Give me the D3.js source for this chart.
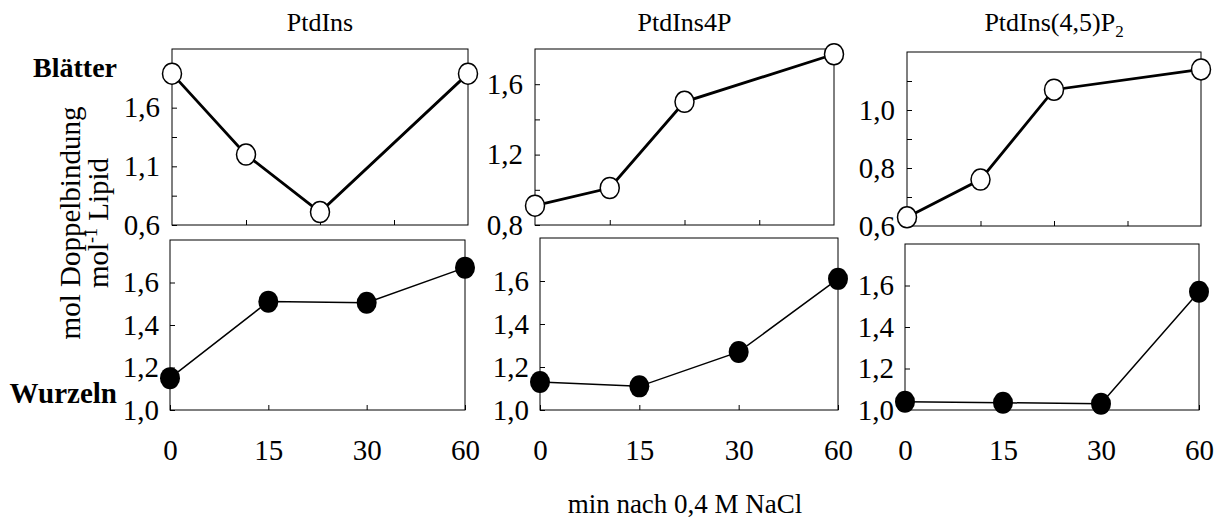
<!DOCTYPE html>
<html>
<head>
<meta charset="utf-8">
<script src="https://cdn.jsdelivr.net/npm/d3@7"></script>
<style>
  body { margin: 0; background: #fff; }
  svg { font-family: 'Liberation Serif', 'Times New Roman', serif; }
  .tick text { font-size: 29px; fill: #000; }
</style>
</head>
<body>
<script>
// minutes after 0.4 M NaCl
var timeLabels = ['0', '15', '30', '60'];
var leafTimes = [0, 15, 30, 60];
var lipids = ['PtdIns', 'PtdIns4P', 'PtdIns(4,5)P'];

// Blaetter (leaves), mol double bonds per mol lipid
var leafPtdIns = [1.89, 1.20, 0.71, 1.89];
var leafPtdIns4P = [0.91, 1.01, 1.50, 1.77];
var leafPtdInsP2 = [0.63, 0.76, 1.07, 1.14];

// Wurzeln (roots)
var rootPtdIns = [1.15, 1.51, 1.505, 1.67];
var rootPtdIns4P = [1.13, 1.11, 1.27, 1.61];
var rootPtdInsP2 = [1.04, 1.035, 1.03, 1.57];

// y axes
var leafDomains = [[0.6, 2.1], [0.8, 1.8], [0.6, 1.2]];
var leafTicks = [[0.6, 0.85, 1.1, 1.35, 1.6, 1.85], [0.8, 1.0, 1.2, 1.4, 1.6], [0.6, 0.7, 0.8, 0.9, 1.0, 1.1]];
var leafTickLabels = [[0.6, 1.1, 1.6], [0.8, 1.2, 1.6], [0.6, 0.8, 1.0]];
var rootDomain = [1.0, 1.8];
var rootTicks = [1.0, 1.2, 1.4, 1.6];

var leafSeries = [leafPtdIns, leafPtdIns4P, leafPtdInsP2];
var rootSeries = [rootPtdIns, rootPtdIns4P, rootPtdInsP2];

var width = 1217, height = 519;

var topBoxes = [
  {x0: 172, x1: 468, y0: 49, y1: 225},
  {x0: 535, x1: 834, y0: 49, y1: 225},
  {x0: 907, x1: 1201, y0: 52, y1: 226}
];
var bottomBoxes = [
  {x0: 170, x1: 465, y0: 240, y1: 410},
  {x0: 540, x1: 838, y0: 238, y1: 410},
  {x0: 905, x1: 1199, y0: 244, y1: 410}
];

var svg = d3.select('body').append('svg')
    .attr('width', width)
    .attr('height', height);

var comma = function (v) { return d3.format('.1f')(v).replace('.', ','); };

function drawBox(b) {
  svg.append('rect')
      .attr('x', b.x0)
      .attr('y', b.y0)
      .attr('width', b.x1 - b.x0)
      .attr('height', b.y1 - b.y0)
      .attr('fill', 'none')
      .attr('stroke', '#000')
      .attr('stroke-width', 1);
}

function styleAxis(g) {
  g.attr('font-family', null).attr('font-size', null);
  g.select('.domain').remove();
  g.selectAll('.tick line').attr('stroke', '#000');
}

// top row: leaves
topBoxes.forEach(function (b, i) {
  var x = d3.scaleLinear().domain([0, 60]).range([b.x0, b.x1]);
  var y = d3.scaleLinear().domain(leafDomains[i]).range([b.y1, b.y0]);
  var labels = leafTickLabels[i];

  drawBox(b);

  svg.append('g')
      .attr('transform', 'translate(' + b.x0 + ',0)')
      .call(d3.axisLeft(y)
        .tickValues(leafTicks[i])
        .tickSizeInner(-5)
        .tickSizeOuter(0)
        .tickPadding(12)
        .tickFormat(function (d) {
          return labels.some(function (l) { return Math.abs(l - d) < 1e-6; }) ? comma(d) : '';
        }))
      .call(styleAxis);

  svg.append('g')
      .attr('transform', 'translate(0,' + b.y1 + ')')
      .call(d3.axisBottom(x)
        .tickValues([15, 30, 45])
        .tickSizeInner(-5)
        .tickSizeOuter(0)
        .tickFormat(''))
      .call(styleAxis);

  var line = d3.line()
      .x(function (d, j) { return x(leafTimes[j]); })
      .y(function (d) { return y(d); });

  svg.append('path')
      .datum(leafSeries[i])
      .attr('d', line)
      .attr('fill', 'none')
      .attr('stroke', '#000')
      .attr('stroke-width', 2.8);

  svg.append('g').selectAll('ellipse')
      .data(leafSeries[i])
      .enter().append('ellipse')
      .attr('cx', function (d, j) { return x(leafTimes[j]); })
      .attr('cy', function (d) { return y(d); })
      .attr('rx', 9.5)
      .attr('ry', 10.5)
      .attr('fill', '#fff')
      .attr('stroke', '#000')
      .attr('stroke-width', 1.5);

  // panel title
  var t = svg.append('text')
      .attr('x', (b.x0 + b.x1) / 2)
      .attr('y', 31)
      .attr('text-anchor', 'middle')
      .attr('font-size', 26)
      .text(lipids[i]);
  if (i === 2) {
    t.append('tspan').attr('font-size', 17).attr('dy', 6).text('2');
  }
});

// bottom row: roots
bottomBoxes.forEach(function (b, i) {
  var x = d3.scalePoint().domain(timeLabels).range([b.x0, b.x1]);
  var y = d3.scaleLinear().domain(rootDomain).range([b.y1, b.y0]);

  drawBox(b);

  svg.append('g')
      .attr('transform', 'translate(' + b.x0 + ',0)')
      .call(d3.axisLeft(y)
        .tickValues(rootTicks)
        .tickSizeInner(-5)
        .tickSizeOuter(0)
        .tickPadding(11)
        .tickFormat(comma))
      .call(styleAxis);

  svg.append('g')
      .attr('transform', 'translate(0,' + b.y1 + ')')
      .call(d3.axisBottom(x)
        .tickSizeInner(-5)
        .tickSizeOuter(0)
        .tickPadding(29))
      .call(styleAxis);

  var line = d3.line()
      .x(function (d, j) { return x(timeLabels[j]); })
      .y(function (d) { return y(d); });

  svg.append('path')
      .datum(rootSeries[i])
      .attr('d', line)
      .attr('fill', 'none')
      .attr('stroke', '#000')
      .attr('stroke-width', 1.5);

  svg.append('g').selectAll('ellipse')
      .data(rootSeries[i])
      .enter().append('ellipse')
      .attr('cx', function (d, j) { return x(timeLabels[j]); })
      .attr('cy', function (d) { return y(d); })
      .attr('rx', 10)
      .attr('ry', 11)
      .attr('fill', '#000');
});

// row labels
svg.append('text')
    .attr('x', 117)
    .attr('y', 77)
    .attr('text-anchor', 'end')
    .attr('font-size', 28)
    .attr('font-weight', 'bold')
    .text('Blätter');

svg.append('text')
    .attr('x', 117)
    .attr('y', 403)
    .attr('text-anchor', 'end')
    .attr('font-size', 29)
    .attr('font-weight', 'bold')
    .text('Wurzeln');

// y label, two lines
var ylab = svg.append('g')
    .attr('transform', 'translate(80,223) rotate(-90)');
ylab.append('text')
    .attr('text-anchor', 'middle')
    .attr('font-size', 29)
    .text('mol Doppelbindung');
var l2 = ylab.append('text')
    .attr('y', 28)
    .attr('text-anchor', 'middle')
    .attr('font-size', 29);
l2.append('tspan').text('mol');
l2.append('tspan').attr('font-size', 18).attr('dy', -11).text('-1');
l2.append('tspan').attr('dy', 11).text(' Lipid');

// x label
svg.append('text')
    .attr('x', 685)
    .attr('y', 513)
    .attr('text-anchor', 'middle')
    .attr('font-size', 27)
    .text('min nach 0,4 M NaCl');
</script>
</body>
</html>
